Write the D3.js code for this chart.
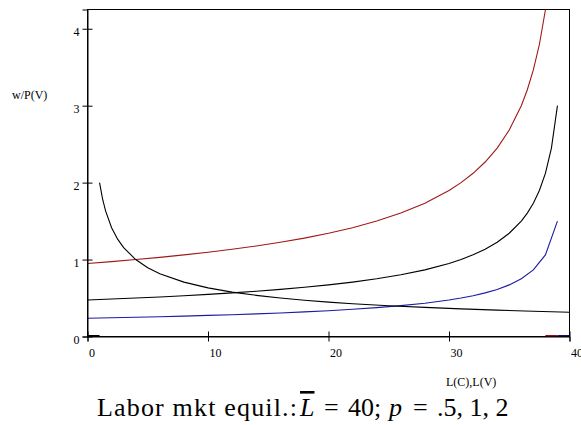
<!DOCTYPE html>
<html>
<head>
<meta charset="utf-8">
<script src="https://cdn.jsdelivr.net/npm/d3@7"></script>
<style>
  html, body { margin: 0; padding: 0; background: #fff; }
  svg { display: block; }
  text { font-family: "Liberation Serif", "Times New Roman", serif; fill: #000; }
</style>
</head>
<body>
<svg id="chart" width="581" height="425"></svg>
<script>
// Labor supply (decreasing) in w/P against L
const supplyL = [1, 1.25, 1.5, 2, 2.5, 3, 4, 5, 6, 8, 10, 12, 14, 16, 18, 20, 22, 25, 28, 31, 34, 37, 40];
const supplyW = [2.0, 1.789, 1.633, 1.414, 1.265, 1.155, 1.0, 0.894, 0.816, 0.707, 0.632, 0.577, 0.535, 0.5, 0.471, 0.447, 0.426, 0.4, 0.378, 0.359, 0.343, 0.329, 0.316];

// Labor demand curves for p = 2, 1, .5
const demandL = [0, 2, 4, 6, 8, 10, 12, 14, 16, 18, 20, 22, 24, 26, 28, 30, 31, 32, 33, 34, 35, 36, 36.5, 37, 37.5, 38, 38.5, 39];
const demandP2 = [0.949, 0.973, 1.0, 1.029, 1.061, 1.095, 1.134, 1.177, 1.225, 1.279, 1.342, 1.414, 1.5, 1.604, 1.732, 1.897, 2.0, 2.121, 2.268, 2.449, 2.683, 3.0, 3.207, 3.464, 3.795, 4.243, 4.899, 6.0];
const demandP1 = [0.474, 0.487, 0.5, 0.514, 0.530, 0.548, 0.567, 0.588, 0.612, 0.640, 0.671, 0.707, 0.75, 0.802, 0.866, 0.949, 1.0, 1.061, 1.134, 1.225, 1.342, 1.5, 1.604, 1.732, 1.897, 2.121, 2.449, 3.0];
const demandBlueL = [0, 2, 4, 6, 8, 10, 12, 14, 16, 18, 20, 22, 24, 26, 28, 30, 31, 32, 33, 34, 35, 36, 37, 38, 39];
const demandP05 = [0.237, 0.243, 0.25, 0.257, 0.265, 0.274, 0.283, 0.294, 0.306, 0.320, 0.335, 0.354, 0.375, 0.401, 0.433, 0.474, 0.5, 0.530, 0.567, 0.612, 0.671, 0.75, 0.866, 1.061, 1.5];

// Zero-valued stretches that sit on the horizontal axis
const zeroSegL = [[0, 1], [38, 39], [39, 40]];
const zeroSegColors = ["#000000", "#8b1010", "#10107a"];

const xTicks = [0, 10, 20, 30, 40];
const yTicks = [0, 1, 2, 3, 4];

// caption pieces: text, italic, overline, x position
const captionParts = [
  { text: "Labor mkt equil.:", italic: false, bar: false, x: 97, len: 200 },
  { text: "L", italic: true, bar: true, x: 300 },
  { text: "=", italic: false, bar: false, x: 324 },
  { text: "40;", italic: false, bar: false, x: 348 },
  { text: "p", italic: true, bar: false, x: 389 },
  { text: "=", italic: false, bar: false, x: 413 },
  { text: ".5, 1, 2", italic: false, bar: false, x: 437 }
];

const svg = d3.select("#chart");
const plotLeft = 87.5, plotRight = 569.5, plotTop = 9.5, plotBottom = 336.5;

const x = d3.scaleLinear().domain([0, 40]).range([plotLeft, plotRight]);
const y = d3.scaleLinear().domain([0, 4.25]).range([plotBottom, plotTop]);

svg.append("defs").append("clipPath").attr("id", "plotClip")
  .append("rect").attr("x", plotLeft).attr("y", plotTop)
  .attr("width", plotRight - plotLeft).attr("height", plotBottom - plotTop);

// frame
svg.append("rect")
  .attr("x", plotLeft).attr("y", plotTop)
  .attr("width", plotRight - plotLeft).attr("height", plotBottom - plotTop)
  .attr("fill", "none").attr("stroke", "#000").attr("stroke-width", 1);

const plot = svg.append("g").attr("clip-path", "url(#plotClip)");
const line = d3.line().x(d => x(d[0])).y(d => y(d[1]));

function series(xs, ys, color) {
  plot.append("path")
    .datum(xs.map((v, i) => [v, ys[i]]))
    .attr("d", line)
    .attr("fill", "none")
    .attr("stroke", color)
    .attr("stroke-width", 1.1);
}

series(demandL, demandP2, "#a01818");
series(demandL, demandP1, "#000000");
series(demandBlueL, demandP05, "#1c1ca0");
series(supplyL, supplyW, "#000000");

zeroSegL.forEach((seg, i) => {
  plot.append("path")
    .datum(seg.map(v => [v, 0]))
    .attr("d", line)
    .attr("fill", "none")
    .attr("stroke", zeroSegColors[i])
    .attr("stroke-width", 3);
});

// x axis
const xAxis = svg.append("g").attr("transform", `translate(0,${plotBottom})`)
  .call(d3.axisBottom(x).tickValues(xTicks).tickSize(5).tickFormat(d3.format("d")))
  .attr("font-family", null).attr("font-size", null);
xAxis.select(".domain").attr("stroke", "#000");
xAxis.selectAll(".tick line").attr("y1", -5).attr("y2", 5).attr("stroke", "#000");
xAxis.selectAll(".tick text")
  .attr("text-anchor", "start").attr("x", 1).attr("y", 20).attr("dy", null)
  .attr("fill", "#000")
  .style("font-size", "12px").style("font-family", "'Liberation Serif', serif");

// y axis
const yAxis = svg.append("g").attr("transform", `translate(${plotLeft},0)`)
  .call(d3.axisLeft(y).tickValues(yTicks).tickSize(5).tickFormat(d3.format("d")))
  .attr("font-family", null).attr("font-size", null);
yAxis.select(".domain").attr("stroke", "#000");
yAxis.selectAll(".tick line").attr("x1", -5).attr("x2", 5).attr("stroke", "#000");
yAxis.selectAll(".tick text")
  .attr("x", -8).attr("y", 0).attr("dy", "0.55em")
  .attr("fill", "#000")
  .style("font-size", "12px").style("font-family", "'Liberation Serif', serif");

// axis titles
svg.append("text").attr("x", 12).attr("y", 99)
  .style("font-size", "12px").text("w/P(V)");
svg.append("text").attr("x", 446).attr("y", 386)
  .style("font-size", "12px").text("L(C),L(V)");

// caption
const cap = svg.append("g").style("font-size", "26px");
captionParts.forEach(p => {
  const t = cap.append("text").attr("x", p.x).attr("y", 416).text(p.text)
    .style("font-style", p.italic ? "italic" : "normal")
    .style("text-decoration", p.bar ? "overline" : "none");
  if (p.len) t.attr("textLength", p.len).attr("lengthAdjust", "spacing");
});
</script>
</body>
</html>
